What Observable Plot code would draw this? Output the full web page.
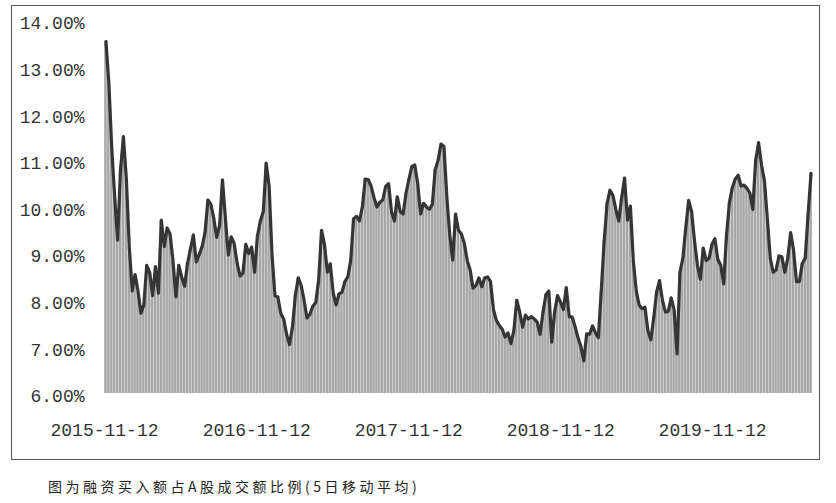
<!DOCTYPE html>
<html>
<head>
<meta charset="utf-8">
<script src="https://cdn.jsdelivr.net/npm/d3@7"></script>
<script src="https://cdn.jsdelivr.net/npm/@observablehq/plot@0.6"></script>
<style>
  html, body { margin: 0; padding: 0; background: #fff; }
  #frame {
    position: absolute; left: 11px; top: 5px;
    width: 807px; height: 453px;
    border: 1.5px solid #555;
  }
  #caption {
    position: absolute; left: 48px; top: 476px;
    font-family: "Noto Sans CJK SC", sans-serif;
    font-size: 14px; letter-spacing: 3.5px; color: #222;
    white-space: nowrap;
  }
</style>
</head>
<body>
<div id="frame"></div>
<div id="caption"></div>
<script>
// ---- data (weekly samples, %) ----
const startDate = "2015-11-12";
const ratio = [
  13.55, 12.65, 11.25, 10.22, 9.29, 10.8, 11.51, 10.6, 9.15, 8.2,
  8.55, 8.2, 7.72, 7.9, 8.75, 8.6, 8.1, 8.72, 8.15, 9.72,
  9.15, 9.55, 9.42, 8.85, 8.07, 8.75, 8.5, 8.3, 8.79, 9.1,
  9.4, 8.82, 8.98, 9.15, 9.45, 10.15, 10.06, 9.76, 9.35, 9.6,
  10.58, 9.75, 8.97, 9.36, 9.22, 8.8, 8.52, 8.58, 9.2, 9.0,
  9.14, 8.6, 9.38, 9.7, 9.9, 10.94, 10.45, 8.97, 8.1, 8.07,
  7.72, 7.6, 7.27, 7.05, 7.42, 8.1, 8.48, 8.32, 8.0, 7.62,
  7.7, 7.87, 7.95, 8.43, 9.5, 9.2, 8.6, 8.78, 8.15, 7.9,
  8.14, 8.17, 8.4, 8.5, 8.85, 9.75, 9.8, 9.7, 10.0, 10.6,
  10.59, 10.45, 10.2, 10.0, 10.1, 10.15, 10.44, 10.5, 9.9, 9.7,
  10.22, 9.9, 9.85, 10.3, 10.6, 10.87, 10.9, 10.5, 9.85, 10.08,
  10.0, 9.95, 10.05, 10.8, 11.0, 11.35, 11.3, 10.22, 9.4, 8.86,
  9.85, 9.5, 9.42, 9.22, 8.85, 8.65, 8.26, 8.32, 8.48, 8.29,
  8.48, 8.5, 8.4, 7.8, 7.57, 7.46, 7.38, 7.21, 7.3, 7.07,
  7.35, 8.0, 7.75, 7.42, 7.68, 7.6, 7.65, 7.6, 7.53, 7.27,
  7.74, 8.12, 8.2, 7.1, 7.75, 8.1, 7.96, 7.8, 8.27, 7.65,
  7.64, 7.44, 7.2, 7.01, 6.7, 7.28, 7.27, 7.45, 7.3, 7.2,
  8.2, 9.27, 10.08, 10.36, 10.25, 9.95, 9.7, 10.2, 10.62, 9.72,
  10.02, 8.85, 8.2, 7.9, 7.82, 7.85, 7.35, 7.15, 7.62, 8.18,
  8.42, 8.0, 7.75, 7.76, 8.05, 7.8, 6.85, 8.6, 8.9, 9.55,
  10.14, 9.9, 9.28, 8.75, 8.45, 9.12, 8.85, 8.9, 9.2, 9.32,
  8.88, 8.75, 8.35, 9.4, 10.1, 10.42, 10.6, 10.68, 10.45, 10.47,
  10.4, 10.3, 9.95, 11.0, 11.38, 10.9, 10.56, 9.75, 8.9, 8.6,
  8.65, 8.95, 8.93, 8.6, 8.9, 9.45, 9.07, 8.4, 8.4, 8.79,
  8.9, 9.85, 10.72
];
const yTicks = [6, 7, 8, 9, 10, 11, 12, 13, 14];
const xTickLabels = ["2015-11-12", "2016-11-12", "2017-11-12", "2018-11-12", "2019-11-12"];
const captionText = "图为融资买入额占A股成交额比例(5日移动平均)";

// ---- build table ----
const start = new Date(startDate + "T00:00:00Z");
const data = ratio.map((v, i) => {
  const date = d3.utcDay.offset(start, 7 * i);
  return { date, end: d3.utcDay.offset(date, 7), mid: d3.utcHour.offset(date, 84), v };
});
const xTicks = xTickLabels.map(s => new Date(s + "T00:00:00Z"));
const fmtDate = d3.utcFormat("%Y-%m-%d");

const chart = Plot.plot({
  width: 807,
  height: 453,
  marginLeft: 92,
  marginRight: 7,
  marginTop: 14,
  marginBottom: 66,
  style: { fontFamily: "'Liberation Mono', monospace", fontSize: "18px", color: "#333", background: "transparent" },
  x: { type: "utc", domain: [start, data[data.length - 1].end] },
  y: { domain: [6, 14] },
  marks: [
    Plot.rectY(data, { x1: "date", x2: "end", y1: 6, y2: "v", fill: "#a6a6a6", insetLeft: 0.2, insetRight: 0.2 }),
    Plot.lineY(data, { x: "mid", y: "v", stroke: "#353535", strokeWidth: 3.2, strokeLinejoin: "round" }),
    Plot.axisY({ ticks: yTicks, tickFormat: d => d.toFixed(2) + "%", tickSize: 0, tickPadding: 20, dy: 3, fill: "#333", label: null }),
    Plot.axisX({ ticks: xTicks, tickFormat: fmtDate, tickSize: 0, tickPadding: 30, fill: "#333", label: null })
  ]
});
document.getElementById("frame").appendChild(chart);
document.getElementById("caption").textContent = captionText;
</script>
</body>
</html>
